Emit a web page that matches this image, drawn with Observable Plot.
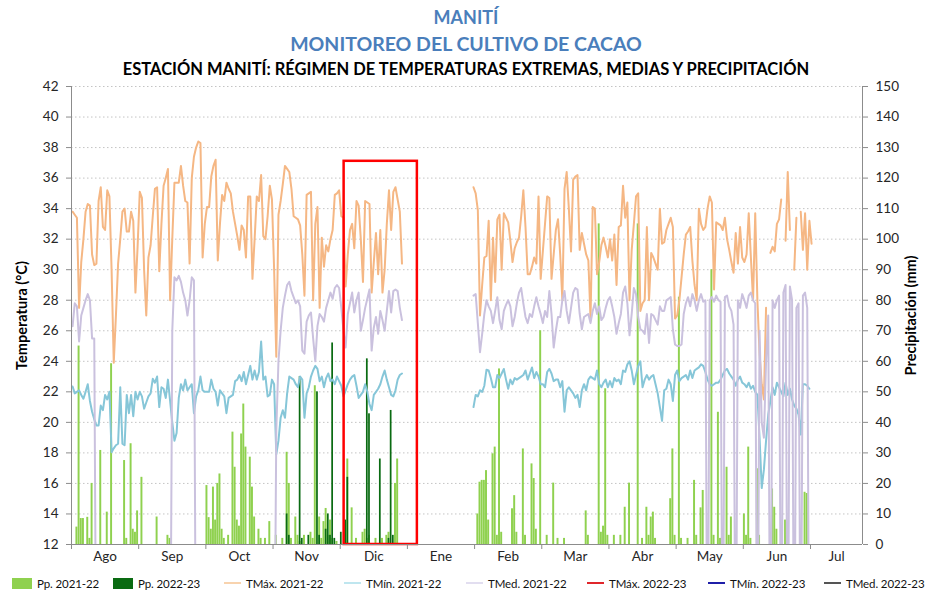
<!DOCTYPE html>
<html><head><meta charset="utf-8">
<script src="https://cdn.jsdelivr.net/npm/d3@7"></script>
<script src="https://cdn.jsdelivr.net/npm/@observablehq/plot@0.6"></script>
<style>
body{margin:0;background:#fff;font-family:Lato,sans-serif;}
#wrap{width:932px;height:592px;position:relative;overflow:hidden;background:#fff}
.t{position:absolute;left:0;width:932px;text-align:center;font-weight:bold;white-space:nowrap}
#chart{position:absolute;left:0;top:78px}
#legend{position:absolute;left:0;top:574px;width:932px;height:18px;font-size:11.5px;color:#111;letter-spacing:-0.1px}
.it{position:absolute;top:0;display:flex;align-items:center;height:18px;white-space:nowrap}
.sq{display:inline-block;width:20px;height:11px;margin-right:5px}
.ln{display:inline-block;width:17px;height:2px;margin-right:5px}
</style></head><body>
<div id="wrap">
<div class="t" style="top:6px;font-size:18px;color:#4a7ebb">MANITÍ</div>
<div class="t" style="top:32px;font-size:19.5px;color:#4a7ebb">MONITOREO DEL CULTIVO DE CACAO</div>
<div class="t" style="top:59px;font-size:16.5px;color:#000">ESTACIÓN MANITÍ: RÉGIMEN DE TEMPERATURAS EXTREMAS, MEDIAS Y PRECIPITACIÓN</div>
<div id="chart"></div>
<div id="legend"></div>
</div>
<script>
// Each month occupies 31 daily slots (Ago ... Jul), as in the source sheet
const months = ["Ago","Sep","Oct","Nov","Dic","Ene","Feb","Mar","Abr","May","Jun","Jul"];
const slotsPerMonth = 31;
const visibleSlots = 365;

// TMáx. 2021-22 (°C)
const tmax = [
 33.8,33.6,33.4,27.5,30.5,32,33.8,34.3,34.2,31,30.3,30.4,34.5,35.4,32.8,32.6,35.2,34.8,30,23.9,27,30.4,32,33.8,34,32.5,32.5,33.8,33.2,28.5,31.5,
 35.1,34.7,30,27,30.8,31.6,33.5,35.3,35.4,29.9,33,35.5,36,36.6,28,32,35.7,35.7,35.7,36.8,35.5,34.5,34.4,30.4,36,37.4,38,38.4,38.3,30.8,33,
 34.1,34.1,36.1,36.8,37.2,30.6,33,34.9,34.5,35.7,35.3,35,33.8,33,32.2,31.3,32.9,32.6,30.8,34.8,34.8,29.4,32,34.8,34.5,36.2,32.2,32,33.5,35.5,34.6,
 30,24.3,33.6,34.5,35.6,36.8,36.6,36.4,35.3,33.5,33.4,33.3,32.9,31,28.3,34.9,35,35.1,28,33,34.1,27.5,32.1,30.2,31.6,31.2,32,32.6,34.9,35,35.2,
 33.5,33.4,28.9,31,32.6,33,31.4,34.5,34.2,32,29.2,34.5,34.4,34.3,28.5,30.5,32.4,29.7,32.6,28.5,30,33,35.2,32.6,35.1,35.4,34.6,33.8,30.4,null,null,
 null,null,null,null,null,null,null,null,null,null,null,null,null,null,null,null,null,null,null,null,null,null,null,null,null,null,null,null,null,null,35.4,
 35,33.9,27,29,30.8,30.9,33.2,28,32.1,29.2,33.3,33.6,30,33.7,33.4,33.1,31.9,30.5,31.4,31.8,32.1,33.5,35.2,32.8,29.7,29.7,30.2,30.8,30.4,34.8,29.4,
 31.2,33,34.8,34.7,29.4,31,32.6,33.3,31,28,35.3,36.4,34,31.2,35.9,36.1,36.2,31.3,32.4,31.7,31,30.6,26.8,34.1,34,29.7,30.5,31.6,32.1,31.5,30.8,
 32,30.6,32.3,29,32.8,32.9,35.5,33.4,34.4,28,31.3,33,34.8,35,27.3,27.8,28,32.8,28,31.1,30.8,30.4,30,34,31.7,31.8,32.6,33,33.4,32.8,26.8,
 27,28,29.5,31,32.3,32.5,32.8,30.6,29,28,34,33,32.6,32.8,34,34.8,34.4,28.7,33.1,33,32.9,32.6,33.4,32,31.3,30.5,29.8,32.4,30.4,32.8,30.8,
 30.5,31,33.7,30.8,28,33.7,28,24.5,22.5,21.5,27.5,null,31.1,31.5,31.2,33,33.3,34.6,null,31.9,36.4,32.6,null,30,33.4,null,33.8,31.3,33.7,30,33.2,
 31.7
];

// TMín. 2021-22 (°C)
const tmin = [
 22.35,21.9,22,22.1,21.8,21.55,22,22.5,21.4,20.7,20.2,19.8,19.8,21.1,20.8,21.8,21.5,22,18.05,18.3,18.5,18.6,22.3,18.6,18.5,21.8,20.6,21.8,20.4,22,21.5,
 22,21.7,20.9,21.3,21.7,21.9,22.85,22.6,23,21,22.3,22.2,21.6,22.8,21.4,20,18.8,19.3,21.6,22.5,22.1,22.8,22.1,22.3,22.5,20.6,21.7,22.1,23,22.1,22,
 22,22,22.8,22.2,22,21.1,22.1,21.9,21.7,20.6,21.6,21.7,21.8,22.7,22.8,23.1,22.7,23.3,22.5,23.1,23.7,22.8,23.4,22.8,23.3,25.3,22.8,23,21.7,21.8,22.8,
 22.5,17.9,18.8,20.3,20.8,20.3,21.9,23,22.9,22.8,22.5,22.3,23,22.8,20.3,21.9,22.3,23,23.4,23.7,23.5,22.7,23,22.3,22.9,23.2,22.7,22.8,22.5,23,22.7,
 22.4,21.7,22.1,22.5,22.8,23,23.1,22.4,21.6,21.8,22,22.5,22,21.2,20.8,21.8,22,22.2,22.5,23,23.4,22.8,22.3,21.8,21.7,22.1,22.8,23.1,23.2,null,null,
 null,null,null,null,null,null,null,null,null,null,null,null,null,null,null,null,null,null,null,null,null,null,null,null,null,null,null,null,null,null,21,
 21.8,21.7,22.1,22,22.4,23.45,23.4,22.9,22.3,22.3,23.1,22.9,23.2,23.5,22.8,22.2,22.8,22.5,22.9,22.8,22.9,23,23.1,23.4,22.8,23.2,23.6,22.9,23.3,23,22.5,
 22.5,22.3,23.3,23.5,23.2,22.7,22.8,22.8,22.3,22.7,20.7,22.1,22.3,22.1,21.9,21.6,21.8,21,22.1,22.5,22.1,22.8,23,22.9,22.8,23.4,22.5,22.3,22.6,22.8,22.3,
 22.7,22.3,22.9,22.7,22.8,22.5,23.4,23.3,23.8,24,23.4,22.5,23.1,23.7,24,22.3,22.8,23.1,22.8,23,23.1,22.5,21.9,21,20.1,22.1,22.2,22.8,22.5,21.4,23.1,
 23.4,22.7,22.9,23,23.1,22.8,23.4,22.9,23.4,23.5,23.6,23.8,23.7,23.3,22.8,22.5,22.4,22.5,22.6,22.6,22.8,23.1,23.4,23.5,23.2,23,22.8,22.4,22.8,23,22.6,
 22.5,22.3,22.6,22.2,22.4,22,21.8,19,15.7,16.9,18.8,20.5,21.4,22.3,21.8,22.6,22.3,22,21.7,22.6,21.8,22.2,21.5,21.1,20.9,20.5,19.2,22.5,22.5,22.4,22.2
];

// TMed. 2021-22 (°C); 0 where the sheet recorded zero
const tmed = [
 26.3,27.8,27.6,25.3,27,27.5,28,28.4,28,25.5,25.5,0,0,0,0,0,0,0,0,0,0,0,0,0,0,0,0,0,0,0,0,
 0,0,0,0,0,0,0,0,0,0,0,0,0,0,0,26,29.5,29.3,29.6,29.2,28.5,28,27,28,29.5,29.3,0,0,0,0,0,
 0,0,0,0,0,0,0,0,0,0,0,0,0,0,0,0,0,0,0,0,0,0,0,0,0,0,0,0,0,0,0,
 0,19.5,24,26,27.5,28.3,29,29.2,28.6,28.2,27.8,28,27.6,24.7,24.5,26.6,27,27.2,25.5,24,26.3,27.1,26.9,26.6,27.5,28,28.5,28.1,28.8,29,28.8,
 27.5,26,24.9,27.1,27.8,28.5,27.2,28,28.5,26,26.7,27.5,28.1,28.7,24.7,26.2,26.9,25.8,27.3,26.7,26,27.3,28.6,27.2,28.6,28.7,28.6,27.5,26.7,null,null,
 null,null,null,null,null,null,null,null,null,null,null,null,null,null,null,null,null,null,null,null,null,null,null,null,null,null,null,null,null,null,28.3,
 28.4,26.5,24.6,25.8,27.1,28,27.6,27.3,26.5,27.3,28.2,26.7,26.1,27.3,27.7,28,27.6,26.3,26.9,27.8,28.5,28.8,27.8,26.9,26.5,27.1,26.9,27.6,28.2,27.6,27.1,
 26.5,27.3,26.9,28.6,27.1,24.9,26,26.9,26.9,28,28.6,27.3,26.5,27.5,28.5,28.8,28.7,27.1,26.1,26.9,27,27.1,26.5,27.3,27.8,27.1,27.6,26.7,26.9,27.5,28,
 28.2,27.6,26.9,25.8,26.5,27.1,28.5,28.9,27.8,25.7,27.1,28.8,28.4,26.9,26.1,26,25.8,27.1,25.2,27.1,27,26.7,26.4,27.6,27.3,27.3,28,28.1,28.2,26.1,25.1,
 25,25,25.1,27.1,27.8,28.2,27.6,28.4,28,27.3,28,28.4,27.9,28,0,28,28.2,27.9,28.3,28,27.9,0,28.2,28.3,27.6,27.3,26.4,0,28,27.5,28.4,
 28,27.5,28.3,28.5,28,27.8,0,26,20,19,24,27,0,28,27.5,28,28.3,0,28.5,29,0,28.9,28,0,27.5,27.8,0,28.3,28.5,27.5,0
];

// Pp. 2021-22 (mm)
const pp2122 = [
 0,0,5.7,65,8.5,8.5,0,8.9,2,20,0,0,0,30.8,0,0,10.6,0,59.2,0,0,0,0,0,27.5,2,0,33,5,4,11,
 0,22,0,0,0,0,0,0,9,0,0,0,0,3,2,0,0,0,0,0,0,0,0,0,0,0,0,0,0,0,0,
 19.3,8.8,5,18.8,8,20,23.1,5,2,0,3,0,36.8,25.3,8,6,36.2,46,31.9,0,28.6,18.8,9,0,5,2,0,2,0,7.5,0,
 0,3,0,0,2,0,30.2,20,2,0,9,3,1,0,3,0,0,4,2,52,0,9,2,7.5,11.8,3,8,2,0,1,0,
 0,0,0,28,0,12,0,2,0,0,4,5,2,3,0,0,2,0,0,2,0,3,4,0,0,20,28,0,0,0,0,
 0,0,0,0,0,0,0,0,0,0,0,0,0,0,0,0,0,0,0,0,0,0,0,0,0,0,0,0,0,0,0,
 0,10,20.4,21,21,24.2,8,0,29.7,31.9,3,57.5,4,0,0,0,0,11.7,16,4,0,0,31.3,3,0,0,26.4,21.6,5,0,70,
 0,0,3,0,0,20.1,0,2,0,0,2,0,0,0,0,0,0,0,0,0,11,3,0,0,0,0,105,4,6,51,3,
 0,0,3,0,0,3,0,12.2,0,20.1,0,0,0,105,0,2,0,12.2,3,9,10.6,2,0,0,0,0,0,0,15,31.3,3,
 0,81,2,0,0,2,0,0,21,3,0,12,17.7,0,0,0,90,3,0,43.3,2,0,0,25.3,3,9,0,2,0,0,0,
 10,3,31.9,2,0,0,24.8,3,0,0,0,0,0,18.2,12.2,5,0,0,0,8,0,0,0,0,0,0,0,0,17.1,16.7,0
];

// Pp. 2022-23 (mm), Nov and Dic
const pp2223Start = 3;
const pp2223 = [
 0,0,0,0,0,0,10,3,0,0,0,0,55,2,0,0,3,0,0,0,50,3,0,0,5,10,3,66,2,0,0,
 4,0,8,22,0,0,0,0,0,0,0,0,60.8,42.8,0,0,0,0,28,0,0,0,2,43.9,3,0,0,0,0,0,0
];

// Highlight box (Dic 2022-23), in slots and °C
const highlight = [{s1: 125.8, s2: 159.6, t1: 12, t2: 37.1}];

const tempTicks = d3.range(12, 43, 2);
const gridTicks = d3.range(14, 43, 2);
const monthTicks = d3.range(0, 12).map(i => i * slotsPerMonth);
const monthLabels = months.map((m, i) => ({m, s: (i * slotsPerMonth + Math.min((i + 1) * slotsPerMonth, visibleSlots)) / 2}));

const toRows = (arr, start = 0) => arr.map((v, i) => ({s: start * slotsPerMonth + i + 0.5, v}));
const mmToT = mm => 12 + mm / 5;
const bars21 = toRows(pp2122).filter(d => d.v > 0);
const bars22 = toRows(pp2223, pp2223Start).filter(d => d.v > 0);

const gray = "#8c8c8c";
const chart = Plot.plot({
  width: 932, height: 493,
  marginTop: 8, marginBottom: 27, marginLeft: 71, marginRight: 70,
  style: {fontFamily: "Lato, sans-serif", fontSize: "13.5px", color: "#262626", background: "white"},
  x: {domain: [0, visibleSlots]},
  y: {domain: [12, 42]},
  marks: [
    Plot.gridY(gridTicks, {stroke: "#c4c4c4", strokeOpacity: 1, strokeDasharray: "1.5,2.5"}),
    Plot.rect(bars21, {x1: d => d.s - 0.45, x2: d => d.s + 0.45, y1: 12, y2: d => mmToT(d.v), fill: "#8fd14f"}),
    Plot.rect(bars22, {x1: d => d.s - 0.4, x2: d => d.s + 0.4, y1: 12, y2: d => mmToT(d.v), fill: "#0a6b12"}),
    Plot.line(toRows(tmax), {x: "s", y: "v", stroke: "#f5b784", strokeWidth: 2, clip: true}),
    Plot.line(toRows(tmin), {x: "s", y: "v", stroke: "#86c6d8", strokeWidth: 2, clip: true}),
    Plot.line(toRows(tmed), {x: "s", y: "v", stroke: "#cac1de", strokeWidth: 2, clip: true}),
    Plot.rect(highlight, {x1: "s1", x2: "s2", y1: "t1", y2: "t2", fill: "none", stroke: "#ff0000", strokeWidth: 2.5}),
    Plot.ruleX([0, visibleSlots], {stroke: gray}),
    Plot.ruleY([12], {stroke: gray}),
    Plot.axisY(tempTicks, {anchor: "left", tickSize: 5, tickPadding: 8, stroke: gray, fill: "#262626", label: null}),
    Plot.axisY(tempTicks, {anchor: "right", tickSize: 5, tickPadding: 8, stroke: gray, fill: "#262626", label: null, tickFormat: d => (d - 12) * 5}),
    Plot.axisX(monthTicks, {anchor: "bottom", tickSize: 5, stroke: gray, tickFormat: () => "", label: null}),
    Plot.text(monthLabels, {x: "s", text: "m", frameAnchor: "bottom", dy: 16, fill: "#262626", fontSize: 13.5}),
    Plot.text(["Temperatura (°C)"], {frameAnchor: "left", dx: -49, rotate: -90, textAnchor: "middle", fontWeight: "bold", fontSize: 14.5, fill: "#000"}),
    Plot.text(["Precipitación (mm)"], {frameAnchor: "right", dx: 49, rotate: -90, textAnchor: "middle", fontWeight: "bold", fontSize: 14.5, fill: "#000"})
  ]
});
document.getElementById("chart").appendChild(chart);

// Legend
const legendItems = [
  {label: "Pp. 2021-22", kind: "sq", color: "#8fd14f", left: 12},
  {label: "Pp. 2022-23", kind: "sq", color: "#0a6b12", left: 113},
  {label: "TMáx. 2021-22", kind: "ln", color: "#f8d3ae", left: 224},
  {label: "TMín. 2021-22", kind: "ln", color: "#bfe6ef", left: 344},
  {label: "TMed. 2021-22", kind: "ln", color: "#e2def0", left: 466},
  {label: "TMáx. 2022-23", kind: "ln", color: "#e0262b", left: 587},
  {label: "TMín. 2022-23", kind: "ln", color: "#1f1fa8", left: 708},
  {label: "TMed. 2022-23", kind: "ln", color: "#555555", left: 824}
];
const lg = document.getElementById("legend");
legendItems.forEach(it => {
  const d = document.createElement("div");
  d.className = "it";
  d.style.left = it.left + "px";
  const sw = document.createElement("span");
  sw.className = it.kind;
  sw.style.background = it.color;
  d.appendChild(sw);
  d.appendChild(document.createTextNode(it.label));
  lg.appendChild(d);
});
</script>
</body></html>
